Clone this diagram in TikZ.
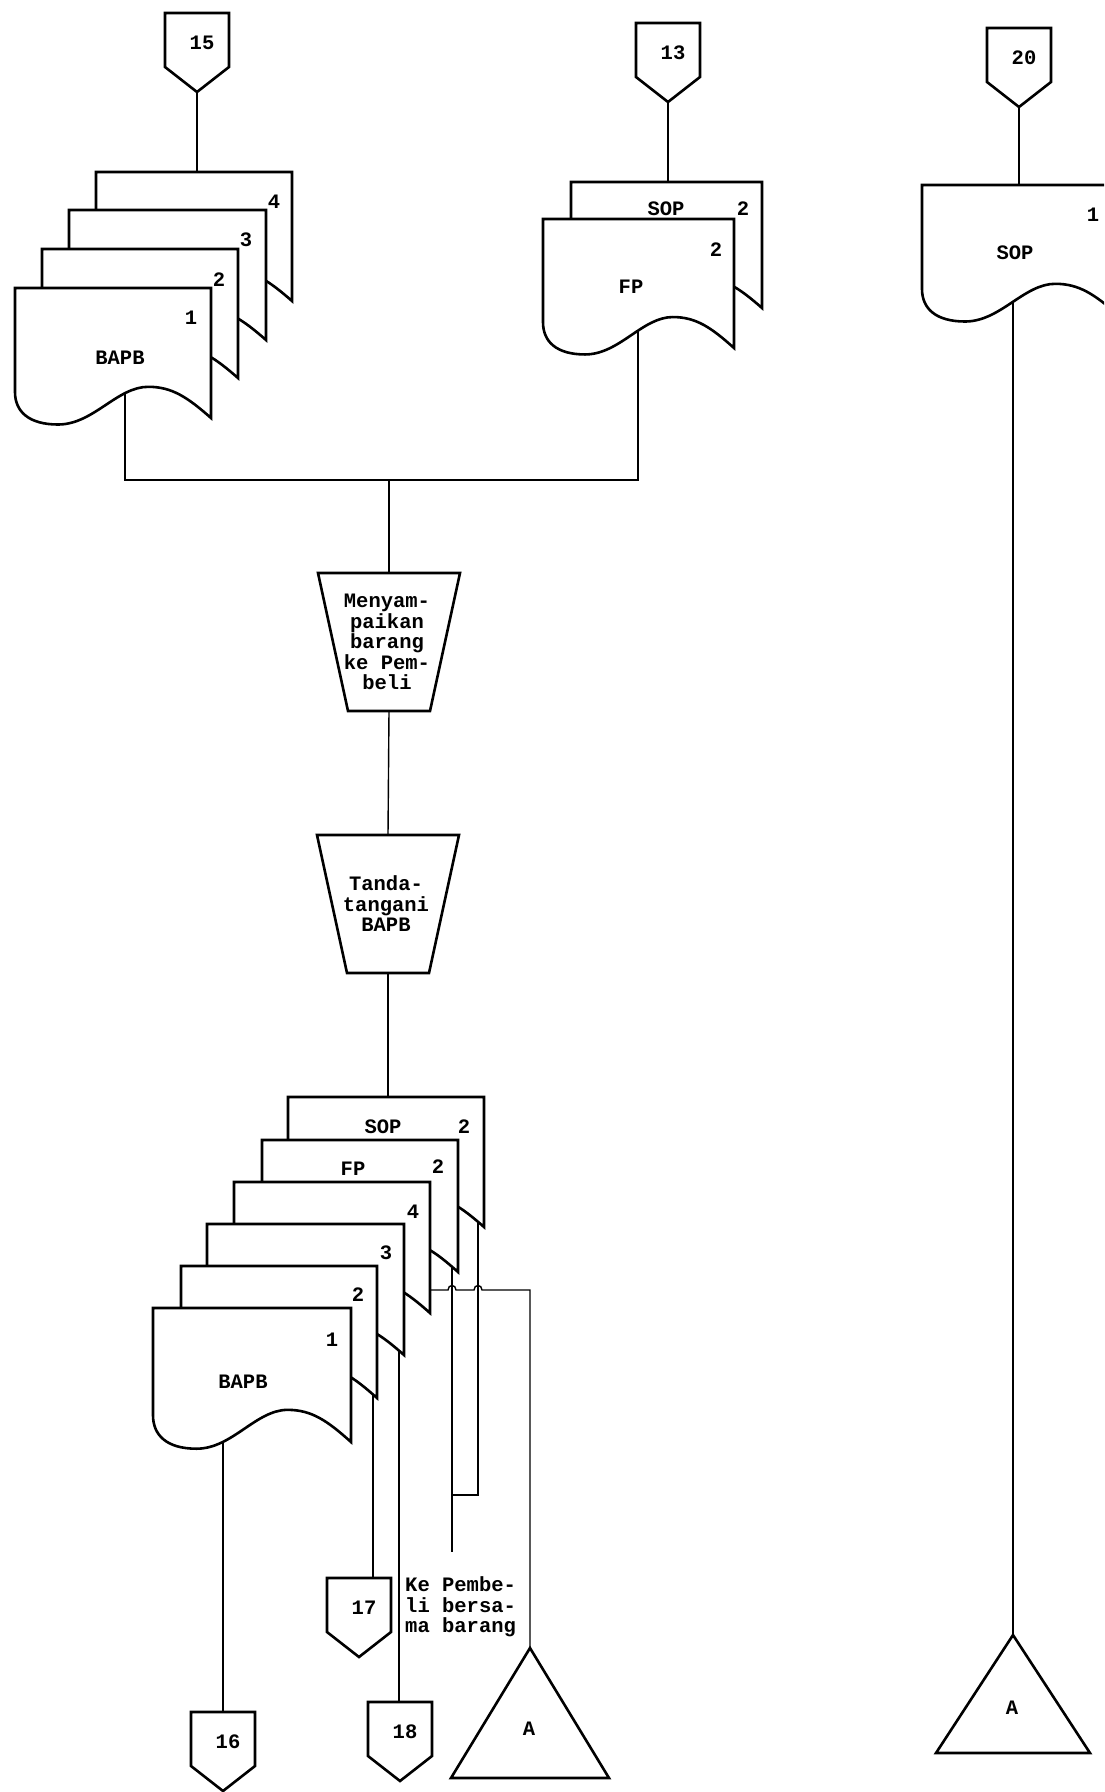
\documentclass[tikz,border=0pt]{standalone}
\usepackage{fontspec}
\newfontfamily\labfam{Liberation Mono}
\usetikzlibrary{calc}
\pgfdeclarelayer{bg}
\pgfsetlayers{bg,main}
\newcommand\lab{\labfam\bfseries\fontsize{20.5}{20.5}\selectfont}
\tikzset{
  shp/.style={draw=black, fill=white, line width=2.6pt, line join=miter},
  flow/.style={draw=black, line width=1.4pt},
  txt/.style={font=\lab, inner sep=0pt, align=center},
}
% document: name, x0, y0, w, h
\newcommand\docshape[5]{%
  \coordinate (#1-nw) at (#2,#3);
  \path[shp] (#2,#3) -- ({#2+#4},#3) -- ({#2+#4},{#3+#5})
    .. controls ({#2+0.88*#4},{#3+0.84*#5}) and ({#2+0.80*#4},{#3+0.76*#5}) .. ({#2+0.68*#4},{#3+0.76*#5})
    .. controls ({#2+0.52*#4},{#3+0.76*#5}) and ({#2+0.40*#4},{#3+1.05*#5}) .. ({#2+0.22*#4},{#3+1.05*#5})
    .. controls ({#2+0.07*#4},{#3+1.05*#5}) and (#2,{#3+0.95*#5}) .. (#2,{#3+0.80*#5}) -- cycle;
}
% off-page connector: name, cx, top, text
\newcommand\offpage[4]{%
  \path[shp] ({#2-32},#3) -- ({#2+32},#3) -- ({#2+32},{#3+54}) -- (#2,{#3+79}) -- ({#2-32},{#3+54}) -- cycle;
  \node[txt] (#1) at ({#2+5},{#3+30}) {#4};
  \coordinate (#1-top) at (#2,#3);
  \coordinate (#1-tip) at (#2,{#3+79});
}
% manual operation: name, cx, top, height, text
\newcommand\trapshape[5]{%
  \path[shp] ({#2-71},#3) -- ({#2+71},#3) -- ({#2+41},{#3+#4}) -- ({#2-41},{#3+#4}) -- cycle;
  \node[txt] (#1) at ({#2-2},{#3+#4/2}) {#5};
  \coordinate (#1-top) at (#2,#3);
  \coordinate (#1-bot) at (#2,{#3+#4});
}
% triangle (file): name, apex x, apex y, half width, height, text
\newcommand\trishape[6]{%
  \path[shp] (#2,#3) -- ({#2+#4},{#3+#5}) -- ({#2-#4},{#3+#5}) -- cycle;
  \coordinate (#1-apex) at (#2,#3);
  \node[txt] (#1) at ({#2-1},{#3+0.62*#5}) {#6};
}
\begin{document}
\begin{tikzpicture}[x=1pt,y=-1pt]
\path[use as bounding box] (0,0) rectangle (1104,1792);
\begin{pgfonlayer}{bg}
  \fill[white] (0,0) rectangle (1104,1792);
\end{pgfonlayer}
\begin{scope}
\clip (0,0) rectangle (1104,1792);
% ---------- top left: BAPB x4 ----------
\offpage{c15}{197}{13}{15}
\docshape{ta4}{96}{172}{196}{129}
\node[txt] (ta4n) at (274,202) {4};
\docshape{ta3}{69}{210}{197}{130}
\node[txt] (ta3n) at (246,240) {3};
\docshape{ta2}{42}{249}{196}{129}
\node[txt] (ta2n) at (219,280) {2};
\docshape{ta1}{15}{288}{196}{130}
\node[txt] (ta1n) at (191,318) {1};
\node[txt] (ta1t) at (120,358) {BAPB};
% ---------- top middle: SOP, FP ----------
\offpage{c13}{668}{23}{13}
\docshape{tb1}{571}{182}{191}{126}
\node[txt] (tb1t) at (666,209) {SOP};
\node[txt] (tb1n) at (743,209) {2};
\docshape{tb2}{543}{219}{191}{129}
\node[txt] (tb2n) at (716,250) {2};
\node[txt] (tb2t) at (631,287) {FP};
% ---------- right: SOP 1 ----------
\offpage{c20}{1019}{28}{20}
\docshape{tc}{922}{185}{196}{130}
\node[txt] (tcn) at (1093,215) {1};
\node[txt] (tct) at (1015,253) {SOP};
\trishape{trR}{1013}{1635}{77}{118}{A}
% ---------- manual operations ----------
\trapshape{t1}{389}{573}{138}{Menyam-\\paikan\\barang\\ke Pem-\\beli}
\trapshape{t2}{388}{835}{138}{Tanda-\\tangani\\BAPB}
% ---------- bottom stack ----------
\docshape{bsop}{288}{1097}{196}{130}
\node[txt] (bsopt) at (383,1127) {SOP};
\node[txt] (bsopn) at (464,1127) {2};
\docshape{bfp}{262}{1140}{196}{132}
\node[txt] (bfpt) at (353,1169) {FP};
\node[txt] (bfpn) at (438,1167) {2};
\docshape{ba4}{234}{1182}{196}{131}
\node[txt] (ba4n) at (413,1212) {4};
\docshape{ba3}{207}{1224}{197}{131}
\node[txt] (ba3n) at (386,1253) {3};
\docshape{ba2}{181}{1266}{196}{132}
\node[txt] (ba2n) at (358,1295) {2};
\docshape{ba1}{153}{1308}{198}{134}
\node[txt] (ba1n) at (332,1340) {1};
\node[txt] (ba1t) at (243,1382) {BAPB};
% ---------- bottom terminals ----------
\offpage{c17}{359}{1578}{17}
\offpage{c18}{400}{1702}{18}
\offpage{c16}{223}{1712}{16}
\trishape{trL}{530}{1648}{79}{130}{A}
\node[txt, align=left, anchor=west] (kenote) at (405,1607) {Ke Pembe-\\li bersa-\\ma barang};
\end{scope}
% ---------- connectors ----------
\begin{pgfonlayer}{bg}
\draw[flow] (c15-tip) -- (c15-tip |- ta4-nw);
\draw[flow] (c13-tip) -- (c13-tip |- tb1-nw);
\draw[flow] (c20-tip) -- (c20-tip |- tc-nw);
\coordinate (j1) at (389,480);
\draw[flow] ($(ta1-nw)+(110,100)$) |- (j1) -| ($(tb2-nw)+(95,100)$);
\draw[flow] (j1) -- (t1-top);
\draw[flow] (t1-bot) -- (t2-top);
\draw[flow] (t2-bot) -- (t2-bot |- bsop-nw);
\draw[flow] ($(tc-nw)+(91,100)$) -- (trR-apex);
\draw[flow] ($(ba1-nw)+(70,100)$) -- (c16-top);
\coordinate (l17) at ($(ba2-nw)+(192,100)$);
\draw[flow] (l17) -- (l17 |- c17-top);
\coordinate (l18) at ($(ba3-nw)+(192,100)$);
\draw[flow] (l18) -- (l18 |- c18-top);
\coordinate (lfp) at ($(bfp-nw)+(190,100)$);
\coordinate (lsop) at ($(bsop-nw)+(190,100)$);
\coordinate (fpEnd) at ($(lfp)+(0,312)$);
\coordinate (merge) at ($(lfp)+(0,255)$);
\draw[flow] (lfp) -- (fpEnd);
\draw[flow] (lsop) |- (merge);
\coordinate (l4) at ($(ba4-nw)+(180,108)$);
\coordinate (h1) at (lfp |- l4);
\coordinate (h2) at (lsop |- l4);
\draw[flow] (l4) -- ($(h1)+(-4,0)$) .. controls ($(h1)+(-4,-6)$) and ($(h1)+(4,-6)$) .. ($(h1)+(4,0)$)
  -- ($(h2)+(-4,0)$) .. controls ($(h2)+(-4,-6)$) and ($(h2)+(4,-6)$) .. ($(h2)+(4,0)$) -| (trL-apex);
\end{pgfonlayer}
\end{tikzpicture}
\end{document}
